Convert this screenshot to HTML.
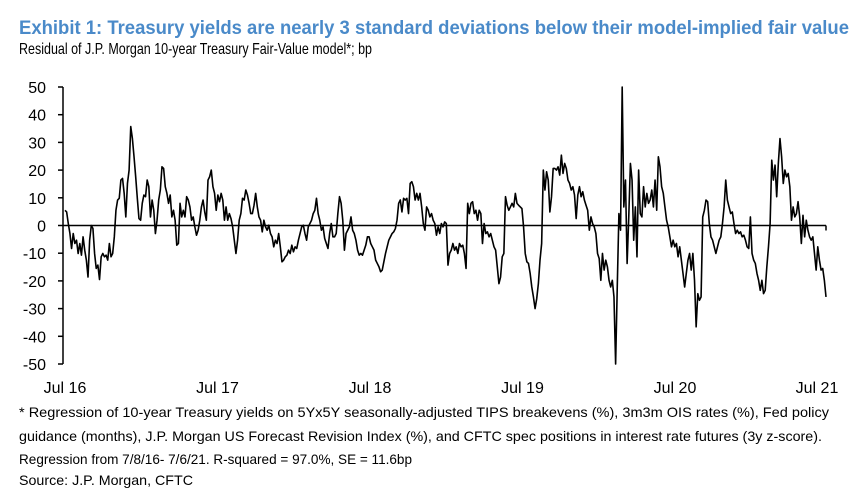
<!DOCTYPE html>
<html><head><meta charset="utf-8"><style>
html,body{margin:0;padding:0;background:#fff;}
svg{display:block;font-family:"Liberation Sans",Arial,sans-serif;}
</style></head><body>
<svg id="chart" width="858" height="498" viewBox="0 0 858 498">
<text x="19" y="34" font-size="19" font-weight="bold" fill="#4a8ac9" textLength="830" lengthAdjust="spacingAndGlyphs">Exhibit 1: Treasury yields are nearly 3 standard deviations below their model-implied fair value</text>
<text x="19" y="54" font-size="16" fill="#000" textLength="353" lengthAdjust="spacingAndGlyphs">Residual of J.P. Morgan 10-year Treasury Fair-Value model*; bp</text>
<g id="yaxis"></g>
<g id="xaxis"></g>
<g id="series"></g>
<g font-size="14" fill="#000">
<text x="19" y="417" textLength="810" lengthAdjust="spacingAndGlyphs">* Regression of 10-year Treasury yields on 5Yx5Y seasonally-adjusted TIPS breakevens (%), 3m3m OIS rates (%), Fed policy</text>
<text x="19" y="441" textLength="803" lengthAdjust="spacingAndGlyphs">guidance (months), J.P. Morgan US Forecast Revision Index (%), and CFTC spec positions in interest rate futures (3y z-score).</text>
<text x="19" y="464" textLength="393" lengthAdjust="spacingAndGlyphs">Regression from 7/8/16- 7/6/21. R-squared = 97.0%, SE = 11.6bp</text>
<text x="19" y="485" textLength="174" lengthAdjust="spacingAndGlyphs">Source: J.P. Morgan, CFTC</text>
</g>
</svg>
<script>
const yTicks = [50,40,30,20,10,0,-10,-20,-30,-40,-50];
const xTickLabels = ["Jul 16","Jul 17","Jul 18","Jul 19","Jul 20","Jul 21"];
const xTickYears = [2016.52,2017.52,2018.52,2019.52,2020.52,2021.52];
const startYear = 2016.52;
const endYear = 2021.51;
const residualBp = [5.5,4.9,0.7,-2.9,-8.3,-2.9,-6.5,-5.3,-10.1,-6.5,-10.7,-4.1,-8.9,-12.5,-18.6,-5.3,0,-1.1,-10.1,-15.5,-14.3,-19.5,-11.3,-10.1,-11.3,-10.7,-12.5,-6.5,-11.3,-10.1,-4.1,5.5,9.2,9.8,16.4,17,11.6,3.1,15.2,20,35.7,31.4,24.8,17.6,9.8,2.5,1.9,8,11,10.4,16.4,14,3.1,9.2,5.5,-2.9,1.9,9.2,12.8,21.2,20.6,14,11.6,8,11,3.1,5.5,1.9,-7.1,-6.5,8,3.1,5.5,3.1,10.4,9.2,6.7,1.9,3.1,-0.5,-3.5,-1.7,1.9,6.7,9.2,4.9,1.9,16.4,17.6,20,14,11.6,5.5,11,8.6,11.6,9.2,1.9,6.7,1.9,4.3,2.5,-0.5,-5.3,-10.1,-5.3,1.9,4.3,9.8,9.2,12.8,11,8,4.3,4.3,7.3,11.6,6.7,3.1,1.9,-2.3,1.9,-0.5,-1.7,0.1,-2.9,-4.1,-7.7,-5.3,-6.5,-2.9,-7.7,-13.1,-12.5,-11.3,-10.7,-8.9,-10.1,-7.1,-9.5,-7.7,-8.3,-5.3,-2.9,-0.5,0.1,-2.9,-5.3,-0.5,0.7,1.9,4.3,5.5,9.8,4.3,1.9,-1.7,-0.5,-4.7,-6.5,-8.3,-2.9,0.7,-4.1,-4.1,-2.9,4.3,10.4,8,1.9,-8.9,-2.9,-1.7,-0.5,3.1,-1.7,-2.9,-5.3,-8.9,-10.7,-10.1,-10.7,-8.9,-7.1,-4.1,-4.1,-6.5,-7.7,-8.9,-12.5,-13.7,-14.9,-16.7,-16.1,-13.1,-10.1,-7.7,-5.3,-4.1,-2.9,-2.3,-1.1,1.9,8,9.2,4.9,9.8,9.2,9.8,4.3,15.2,15.8,14,9.2,11.6,9.2,11.6,6.7,0.7,-1.7,6.7,5.5,3.1,4.3,
1.9,0.7,-3.5,-0.5,-2.9,0.7,-0.5,1.3,0.7,-14.3,-10.1,-8.9,-6.5,-8.9,-7.7,-10.1,-6.5,-7.7,-7.1,-10.1,-15.5,8,4.3,8,8.6,4.3,5.5,1.9,5.5,4.3,-6.5,0.7,-2.9,-2.3,-4.1,-2.9,-5.3,-7.7,-8.9,-14.9,-21,-18.6,-11.3,-10.1,10.4,7.3,5.5,6.7,8,6.7,11.6,8,7.3,6.7,6.1,-0.5,-10.1,-13.1,-13.7,-17.3,-22.2,-25.8,-30,-26.4,-21,-12.5,-6.5,20,12.8,19.4,16.4,4.9,10.4,20.6,20.6,20,21.2,18.2,25.4,18.8,22.4,20.6,16.4,15.2,12.8,14,11,2.5,11,14,10.4,12.2,9.2,7.3,5.5,-1.7,3.1,0.7,-0.5,-2.9,-10.1,-11.9,-19.8,-10.1,-16.1,-12.5,-14.9,-19.8,-22.2,-19.8,-25.8,-50,-22.2,4.3,-1.7,50,6.7,16.4,-13.7,3.1,22.4,16.4,-5.3,6.7,-11.3,20,4.3,3.1,14,6.7,11.6,8,9.2,12.8,6.7,16.4,5.5,24.8,21.2,14,11.6,6.7,1.9,-0.5,-4.1,-7.7,-5.3,-7.7,-6.5,-11.3,-7.7,-12.5,-17.3,-22.2,-17.3,-12.5,-10.1,-16.1,-10.1,-19.8,-36.6,-24.6,-27,-25.8,3.1,5.5,9.2,8.6,0.7,-4.1,-5.3,-7.7,-10.1,-7.7,-5.3,-4.1,0.7,6.7,16.4,9.2,6.7,4.3,4.9,0.7,-2.9,-1.7,-2.9,-2.3,-4.1,-3.5,-5.3,-7.7,-8.3,3.1,-10.1,-12.5,-13.7,-17.3,-19.8,-23.4,-19.8,-24.6,-23.4,-14.9,-7.7,0.7,23.6,16.4,21.8,10.4,22.4,31.4,24.8,15.2,20,17.6,18.8,14,1.9,6.7,3.1,4.3,8.6,3.1,-6.5,3.7,-4.1,1.9,-1.7,-4.1,-5.3,-4.1,-10.1,-16.1,-7.7,-12.5,-16.1,-15.5,-19.8,-25.8];

const NS = "http://www.w3.org/2000/svg";
const X0 = 63, X1 = 826, Y50 = 87, Ym50 = 364;
function yScale(v){ return Y50 + (50 - v) * (Ym50 - Y50) / 100; }
function xYear(t){ return 65 + (t - startYear) * (X1 - 65) / (endYear - startYear); }
function xIndex(i){ return xYear(startYear + i * (endYear - startYear) / (residualBp.length - 1)); }
function mk(tag, attrs, parent){ const e = document.createElementNS(NS, tag); for (const k in attrs) e.setAttribute(k, attrs[k]); parent.appendChild(e); return e; }

const yg = document.getElementById('yaxis');
const ax = mk('line', {x1:X0, y1:Y50, x2:X0, y2:Ym50, stroke:'#000', 'stroke-width':1.5}, yg);


yTicks.forEach(v => {
  const y = yScale(v);
  const t = mk('line', {x1:X0-5, y1:y, x2:X0, y2:y, stroke:'#000', 'stroke-width':1.5}, yg);
  
  
  const l = mk('text', {x:46, y:y+6, 'font-size':16, 'text-anchor':'end', fill:'#000'}, yg);
  l.textContent = String(v);
  
  
});

const xg = document.getElementById('xaxis');
const zl = mk('line', {x1:X0, y1:yScale(0), x2:X1, y2:yScale(0), stroke:'#000', 'stroke-width':1.5}, xg);


const et = mk('line', {x1:X1, y1:yScale(0), x2:X1, y2:yScale(0)+5, stroke:'#000', 'stroke-width':1.5}, xg);


xTickLabels.forEach((s, i) => {
  const x = Math.min(xYear(xTickYears[i]), 817);
  const l = mk('text', {x:x, y:393, 'font-size':16, 'text-anchor':'middle', fill:'#000'}, xg);
  l.textContent = s;
  
  
});

const sg = document.getElementById('series');
const d = residualBp.map((v, i) => (i ? 'L' : 'M') + xIndex(i).toFixed(2) + ' ' + yScale(v).toFixed(2)).join(' ');
const p = mk('path', {d:d, fill:'none', stroke:'#000', 'stroke-width':1.6, 'stroke-linejoin':'round'}, sg);


</script>
</body></html>
